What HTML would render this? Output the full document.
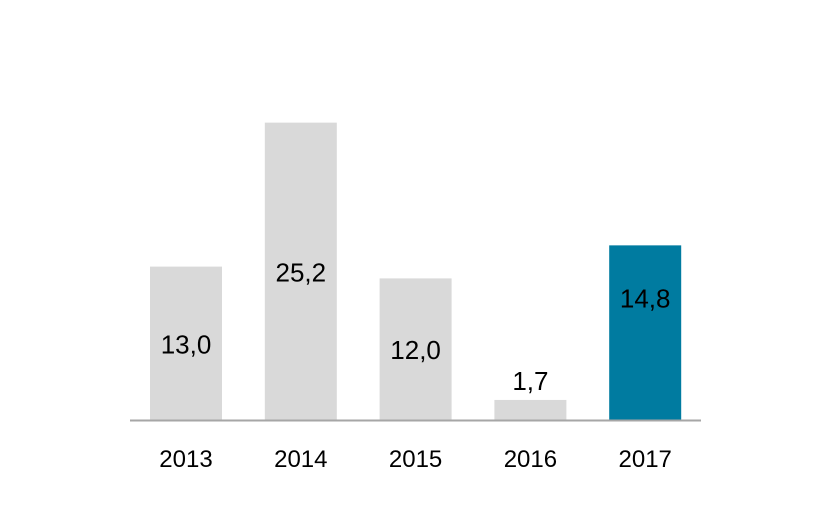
<!DOCTYPE html>
<html><head><meta charset="utf-8"><style>
html,body{margin:0;padding:0;background:#fff;}
svg{display:block;font-family:"Liberation Sans",Arial,sans-serif;}
</style></head><body>
<svg id="chart" width="840" height="530"></svg>
<script>
const categories=["2013","2014","2015","2016","2017"];
const values=[13.0,25.2,12.0,1.7,14.8];
const valueLabels=["13,0","25,2","12,0","1,7","14,8"];
const NS="http://www.w3.org/2000/svg";
const svg=document.getElementById("chart");
const baseY=420,pxPerUnit=11.8,x0=150,step=114.8,bw=72;
const yScale=v=>baseY-v*pxPerUnit;
const xScale=i=>x0+i*step;
function mk(t,a){const e=document.createElementNS(NS,t);for(const k in a)e.setAttribute(k,a[k]);svg.appendChild(e);return e;}
categories.forEach((c,i)=>{
  const x=xScale(i),top=yScale(values[i]);
  const last=i===categories.length-1;
  const r=mk("rect",{x:x,y:top,width:bw,height:baseY-top,fill:last?"#007ba0":"#d9d9d9"});
  
  
  const h=baseY-top;
  const ly=h<40?top-10:(last?top+62:top+h/2+10);
  const t=mk("text",{x:x+bw/2,y:ly,"text-anchor":"middle","font-size":"26",fill:"#000"});
  t.textContent=valueLabels[i];
  
  
  const xl=mk("text",{x:x+bw/2,y:467,"text-anchor":"middle","font-size":"24",fill:"#000"});
  xl.textContent=c;
  
  
});
const ax=mk("line",{x1:130,x2:701,y1:baseY+0.5,y2:baseY+0.5,stroke:"#a6a6a6","stroke-width":"2"});


</script>
</body></html>
